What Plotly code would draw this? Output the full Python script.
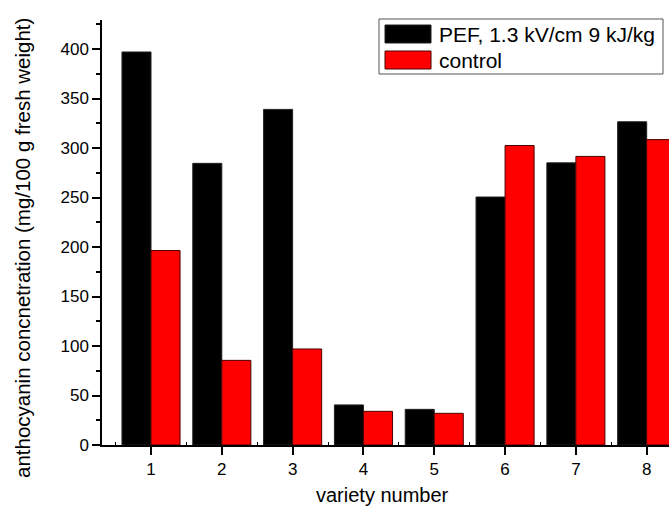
import plotly.graph_objects as go

varieties = [1, 2, 3, 4, 5, 6, 7, 8]
pef_values = [397, 284.5, 339, 40.5, 36, 250.5, 285, 326.5]
control_values = [196.5, 85.5, 97, 34, 32, 302.5, 291.5, 308.5]
series_names = ["PEF, 1.3 kV/cm 9 kJ/kg", "control"]
series_colors = ["black", "#ff0000"]
series_edges = ["#222222", "#4a0000"]
y_ticks = [0, 50, 100, 150, 200, 250, 300, 350, 400]

FONT = "Liberation Sans, Arial, sans-serif"

fig = go.Figure()
for vals, name, col, edge in zip([pef_values, control_values], series_names, series_colors, series_edges):
    fig.add_trace(go.Bar(x=varieties, y=vals, name=name,
                         marker=dict(color=col, line=dict(color=edge, width=1))))

W, H = 669, 508
ml, mr, mt, mb = 102, 0, 20, 63
PW, PH = W - ml - mr, H - mt - mb


def px_x(x):
    return (x - ml) / PW


def px_y(y):
    return (H - mb - y) / PH


fig.update_layout(
    width=W, height=H,
    margin=dict(l=ml, r=mr, t=mt, b=mb, pad=0),
    paper_bgcolor="white", plot_bgcolor="white",
    barmode="group", bargap=0.18, bargroupgap=0,
    font=dict(family=FONT, size=17, color="black"),
    showlegend=False,
)
fig.update_xaxes(range=[0.308, 8.315], tickvals=varieties, ticktext=[str(v) for v in varieties],
                 showgrid=False, zeroline=False, showline=True, linecolor="black", linewidth=1.5,
                 ticks="outside", ticklen=8, tickwidth=1.5, tickcolor="black",
                 tickfont=dict(size=17, family=FONT),
                 minor=dict(tickvals=[0.5 + i for i in range(9)], ticks="inside", ticklen=3,
                            tickwidth=1, tickcolor="black", showgrid=False))
fig.update_yaxes(range=[0, 429.3], tickvals=y_ticks,
                 showgrid=False, zeroline=False, showline=True, linecolor="black", linewidth=1.5,
                 ticks="outside", ticklen=8, tickwidth=1.5, tickcolor="black",
                 tickfont=dict(size=17, family=FONT),
                 minor=dict(dtick=25, tick0=0, ticks="outside", ticklen=4, tickwidth=1.5,
                            tickcolor="black", showgrid=False))

# legend box (drawn manually for wide swatches)
fig.add_shape(type="rect", xref="paper", yref="paper",
              x0=px_x(379), x1=px_x(663), y0=px_y(74), y1=px_y(19),
              line=dict(color="#555555", width=1), fillcolor="white", layer="above")
row_tops = [25, 51]
for name, col, edge, top in zip(series_names, series_colors, series_edges, row_tops):
    fig.add_shape(type="rect", xref="paper", yref="paper",
                  x0=px_x(385), x1=px_x(431), y0=px_y(top + 18), y1=px_y(top),
                  line=dict(color=edge, width=1), fillcolor=col, layer="above")
    fig.add_annotation(text=name, xref="paper", yref="paper", x=px_x(437), y=px_y(top + 9),
                       showarrow=False, xanchor="left", yanchor="middle",
                       font=dict(size=21, family=FONT))

# axis titles
fig.add_annotation(text="anthocyanin concnetration (mg/100 g fresh weight)",
                   xref="paper", yref="paper", x=px_x(22), y=px_y(248),
                   textangle=-90, showarrow=False, xanchor="center", yanchor="middle",
                   font=dict(size=20.5, family=FONT))
fig.add_annotation(text="variety number",
                   xref="paper", yref="paper", x=px_x(382.5), y=px_y(495),
                   showarrow=False, xanchor="center", yanchor="middle",
                   font=dict(size=20, family=FONT))

fig.write_html("out.html")
